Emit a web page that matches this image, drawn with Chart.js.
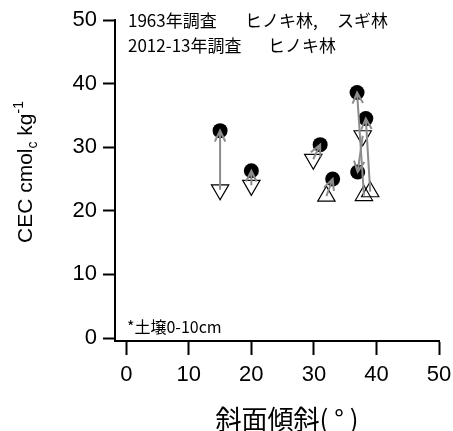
<!DOCTYPE html>
<html>
<head>
<meta charset="utf-8">
<script src="https://cdn.jsdelivr.net/npm/chart.js@4.4.1/dist/chart.umd.min.js"></script>
<style>
  html, body { margin: 0; padding: 0; background: #fff; }
  #wrap { width: 453px; height: 431px; }
</style>
</head>
<body>
<div id="wrap"><canvas id="cecChart"></canvas></div>
<script>
// CEC (topsoil 0-10 cm) vs slope, 1963 survey -> 2012-13 survey
const slope1963 = [15, 20, 31, 33, 36.9, 38.3, 37.0];
const cec1963   = [32.6, 26.3, 30.4, 25.0, 38.6, 34.5, 26.1];
const slope2012 = [15, 20, 29.9, 32, 38.0, 39.0, 37.8];
const cec2012   = [23.3, 24.0, 28.1, 22.3, 22.4, 23.0, 31.8];
const marker2012 = ['down', 'down', 'down', 'up', 'up', 'up', 'down'];

const xTicks = [0, 10, 20, 30, 40, 50];
const yTicks = [0, 10, 20, 30, 40, 50];

const JP = '"Noto Sans CJK JP", sans-serif';
const LAT = '"Liberation Sans", Arial, sans-serif';

// gray arrows from the 2012-13 value to the 1963 value
const arrowPlugin = {
    id: 'arrows',
    afterDatasetsDraw(chart) {
        const { ctx, scales: { x, y } } = chart;
        ctx.save();
        ctx.strokeStyle = '#8c8c8c';
        ctx.lineWidth = 2;
        slope1963.forEach((sx, i) => {
            const x0 = x.getPixelForValue(slope2012[i]), y0 = y.getPixelForValue(cec2012[i]);
            const x1 = x.getPixelForValue(sx), y1 = y.getPixelForValue(cec1963[i]);
            const a = Math.atan2(y1 - y0, x1 - x0);
            const len = 12, spread = 0.45;
            ctx.beginPath();
            ctx.moveTo(x0, y0);
            ctx.lineTo(x1, y1);
            ctx.moveTo(x1 - len * Math.cos(a - spread), y1 - len * Math.sin(a - spread));
            ctx.lineTo(x1, y1);
            ctx.lineTo(x1 - len * Math.cos(a + spread), y1 - len * Math.sin(a + spread));
            ctx.stroke();
        });
        ctx.restore();
    }
};

// axis titles, legend lines and the soil depth note
const textPlugin = {
    id: 'texts',
    afterDraw(chart) {
        const { ctx, chartArea: a } = chart;
        ctx.save();
        ctx.fillStyle = '#000';

        ctx.textBaseline = 'middle';
        ctx.textAlign = 'left';
        ctx.font = '17px ' + JP;
        ctx.fillText('1963年調査', a.left + 13, a.top + 1);
        ctx.fillText('ヒノキ林,', a.left + 130, a.top + 1);
        ctx.fillText('スギ林', a.left + 222, a.top + 1);
        ctx.fillText('2012-13年調査', a.left + 13, a.top + 26);
        ctx.fillText('ヒノキ林', a.left + 153, a.top + 26);

        ctx.font = '16px ' + JP;
        ctx.fillText('*土壌0-10cm', a.left + 12, a.bottom - 14);

        ctx.textAlign = 'center';
        ctx.font = '26px ' + JP;
        ctx.fillText('斜面傾斜( ° )', 287, 419);

        // y title with subscript / superscript
        const parts = [
            { t: 'CEC cmol', s: 21, dy: 0 },
            { t: 'c', s: 14, dy: 5 },
            { t: ' kg', s: 21, dy: 0 },
            { t: '-1', s: 14, dy: -9 }
        ];
        let total = 0;
        parts.forEach(p => { ctx.font = p.s + 'px ' + LAT; p.w = ctx.measureText(p.t).width; total += p.w; });
        ctx.translate(24, 172);
        ctx.rotate(-Math.PI / 2);
        ctx.textAlign = 'left';
        ctx.textBaseline = 'alphabetic';
        let px = -total / 2;
        parts.forEach(p => {
            ctx.font = p.s + 'px ' + LAT;
            ctx.fillText(p.t, px, 7.5 + p.dy);
            px += p.w;
        });
        ctx.restore();
    }
};

new Chart(document.getElementById('cecChart'), {
    type: 'scatter',
    data: {
        datasets: [
            {
                label: '1963年調査',
                data: slope1963.map((v, i) => ({ x: v, y: cec1963[i] })),
                pointStyle: 'circle',
                pointRadius: 7.5,
                backgroundColor: '#000',
                borderColor: '#000',
                borderWidth: 0
            },
            {
                label: '2012-13年調査',
                data: slope2012.map((v, i) => ({ x: v, y: cec2012[i] })),
                pointStyle: 'triangle',
                pointRadius: 10,
                pointRotation: marker2012.map(m => (m === 'down' ? 180 : 0)),
                backgroundColor: 'rgba(0,0,0,0)',
                borderColor: '#000',
                borderWidth: 1.2
            }
        ]
    },
    options: {
        responsive: true, maintainAspectRatio: false, animation: false,
        layout: { padding: { top: 20, right: 14, left: 0, bottom: 0 } },
        plugins: { legend: { display: false }, tooltip: { enabled: false } },
        scales: {
            x: {
                type: 'linear', min: -1.8, max: 50,
                afterBuildTicks: s => { s.ticks = xTicks.map(v => ({ value: v })); },
                afterFit: s => { s.height = 90; s.paddingLeft = 0; s.paddingRight = 0; },
                border: { display: true, color: '#000', width: 2 },
                grid: { display: true, drawOnChartArea: false, drawTicks: true, tickLength: 14, tickColor: '#000', tickWidth: 2 },
                ticks: { color: '#000', font: { family: LAT, size: 22 }, padding: 7, maxRotation: 0 }
            },
            y: {
                type: 'linear', min: -0.47, max: 50,
                afterBuildTicks: s => { s.ticks = yTicks.map(v => ({ value: v })); },
                afterFit: s => { s.width = 115; s.paddingTop = 0; s.paddingBottom = 0; },
                border: { display: true, color: '#000', width: 2 },
                grid: { display: true, drawOnChartArea: false, drawTicks: true, tickLength: 12, tickColor: '#000', tickWidth: 2 },
                ticks: { color: '#000', font: { family: LAT, size: 22 }, padding: 6 }
            }
        }
    },
    plugins: [arrowPlugin, textPlugin]
});
</script>
</body>
</html>
